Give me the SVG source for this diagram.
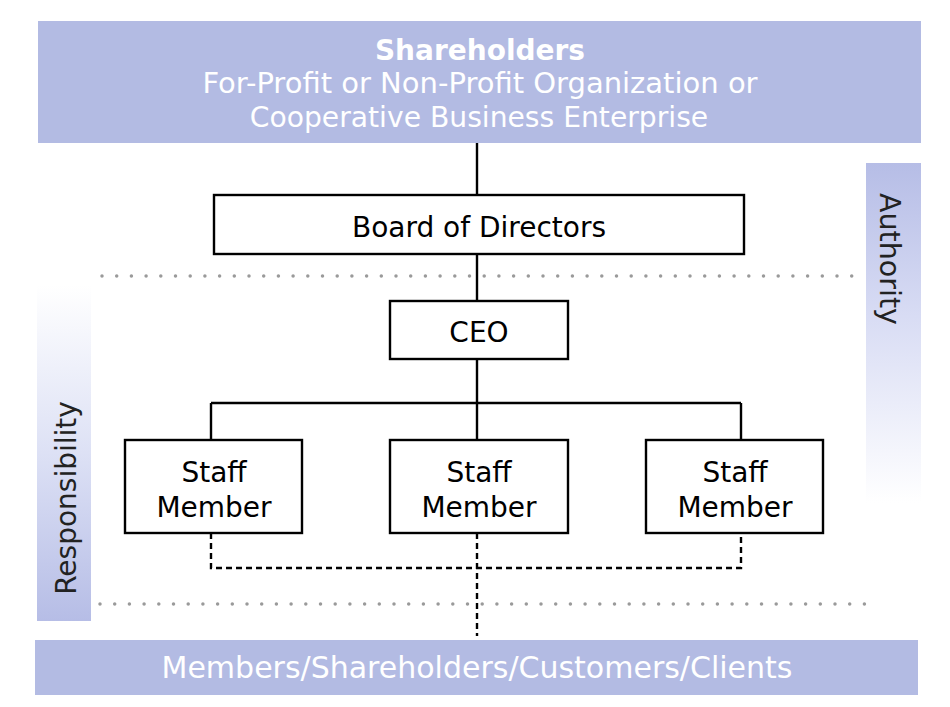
<svg xmlns="http://www.w3.org/2000/svg" width="950" height="707" viewBox="0 0 950 707">
<defs>
<linearGradient id="gAuth" x1="0" y1="0" x2="0" y2="1">
<stop offset="0" stop-color="#b6bde6"/>
<stop offset="0.45" stop-color="#d8dcf4"/>
<stop offset="1" stop-color="#ffffff"/>
</linearGradient>
<linearGradient id="gResp" x1="0" y1="0" x2="0" y2="1">
<stop offset="0" stop-color="#ffffff"/>
<stop offset="0.5" stop-color="#dde1f5"/>
<stop offset="1" stop-color="#b6bde6"/>
</linearGradient>
<style>
.banner{fill:#b3bbe3}
.box{fill:#fff;stroke:#000;stroke-width:2.4}
.t{font-family:"DejaVu Sans","Verdana",sans-serif;font-size:28px;text-anchor:middle}
.big{font-size:29px}
.w{fill:#fff}
.k{fill:#000}
.side{fill:#222}
.solid{stroke:#000;stroke-width:2.4;fill:none}
.dash{stroke:#000;stroke-width:2.4;fill:none;stroke-dasharray:6 4}
.dots{stroke:#9a9a9a;stroke-width:3.5;stroke-linecap:round;stroke-dasharray:0 14.7;fill:none}
</style>
</defs>
<rect width="950" height="707" fill="#fff"/>

<g id="guides">
<path class="dots" d="M102 276 H860"/>
<path class="dots" d="M100 604 H868"/>
</g>

<g id="authority">
<rect x="866" y="163" width="55" height="340" fill="url(#gAuth)"/>
<text class="t side" style="font-size:28.5px" transform="translate(880 259) rotate(90)">Authority</text>
</g>

<g id="responsibility">
<rect x="37" y="285" width="54" height="336" fill="url(#gResp)"/>
<text class="t side" transform="translate(76 498) rotate(-90)">Responsibility</text>
</g>

<g id="connectors">
<path class="solid" d="M477 143 V195 M477 254 V301 M477 359 V440 M211 403 H741 M211 403 V440 M741 403 V440"/>
<path class="dash" d="M211 533 V568 H741 V533 M477 533 V636"/>
</g>

<g id="shareholders">
<rect class="banner" x="38" y="21" width="883" height="122"/>
<text class="t w" x="480" y="60" font-weight="bold">Shareholders</text>
<text class="t big w" x="480" y="93">For-Profit or Non-Profit Organization or</text>
<text class="t w" x="479" y="127" style="font-size:28.2px">Cooperative Business Enterprise</text>
</g>

<g id="board">
<rect class="box" x="214" y="195" width="530" height="59"/>
<text class="t k" x="479" y="237">Board of Directors</text>
</g>

<g id="ceo">
<rect class="box" x="390" y="301" width="178" height="58"/>
<text class="t k" x="479" y="342">CEO</text>
</g>

<g id="staff1">
<rect class="box" x="125" y="440" width="177" height="93"/>
<text class="t k" x="214" y="482">Staff</text>
<text class="t k" x="214" y="517">Member</text>
</g>

<g id="staff2">
<rect class="box" x="390" y="440" width="178" height="93"/>
<text class="t k" x="479" y="482">Staff</text>
<text class="t k" x="479" y="517">Member</text>
</g>

<g id="staff3">
<rect class="box" x="646" y="440" width="177" height="93"/>
<text class="t k" x="735" y="482">Staff</text>
<text class="t k" x="735" y="517">Member</text>
</g>

<g id="members">
<rect class="banner" x="35" y="640" width="883" height="55"/>
<text class="t w" x="477" y="678" style="font-size:30px">Members/Shareholders/Customers/Clients</text>
</g>
</svg>
